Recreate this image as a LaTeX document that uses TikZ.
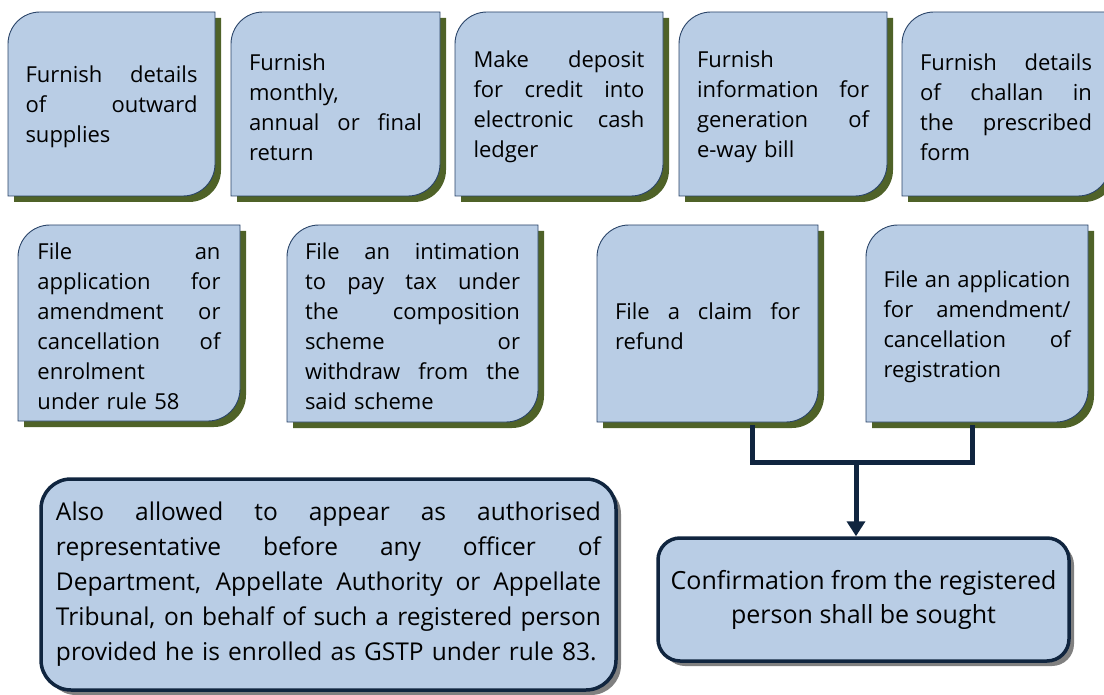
\documentclass[tikz,border=0pt]{standalone}
\usepackage{fontspec}
\setmainfont{Open Sans}
\usetikzlibrary{arrows.meta,shadows}
\definecolor{boxblue}{HTML}{B9CDE5}
\definecolor{boxline}{HTML}{2A4468}
\definecolor{shgreen}{HTML}{4F6228}
\definecolor{navy}{HTML}{10253F}
\newcommand\J[1]{{\spaceskip=0pt\xspaceskip=0pt\makebox[\linewidth][s]{#1}}}
% x1 y1 x2 y2 r  (pixel coordinates, y downwards)
\newcommand\SnipShape[5]{%
  \fill[shgreen,shift={(6,6)}] (#1,#4) -- (#1,{#2+#5}) .. controls (#1,{#2+0.448*#5}) and ({#1+0.448*#5},#2) .. ({#1+#5},#2) -- (#3,#2) -- (#3,{#4-#5}) .. controls (#3,{#4-0.448*#5}) and ({#3-0.448*#5},#4) .. ({#3-#5},#4) -- cycle;
  \filldraw[fill=boxblue,draw=boxline,line width=0.9pt] (#1,#4) -- (#1,{#2+#5}) .. controls (#1,{#2+0.448*#5}) and ({#1+0.448*#5},#2) .. ({#1+#5},#2) -- (#3,#2) -- (#3,{#4-#5}) .. controls (#3,{#4-0.448*#5}) and ({#3-0.448*#5},#4) .. ({#3-#5},#4) -- cycle;
}
% name x1 y1 x2 y2 textwidth content
\newcommand\SnipBox[7]{%
  \SnipShape{#2}{#3}{#4}{#5}{32}
  \node[txt,text width=#6pt,minimum width={(#4-#2)*1pt},minimum height={(#5-#3)*1pt}] (#1) at ({(#2+#4)/2},{(#3+#5)/2+3}) {#7};
}
\tikzset{
  txt/.style={font=\fontsize{22}{30}\selectfont, align=left, inner sep=0pt, text=black},
  bigbox/.style={draw=navy, line width=3.5pt, fill=boxblue, inner sep=0pt,
    drop shadow={shadow xshift=5pt, shadow yshift=-5pt, opacity=1, fill=black!50}},
  conn/.style={draw=navy, line width=5pt},
}
\begin{document}
\begin{tikzpicture}[x=1pt,y=-1pt]
\useasboundingbox (0,0) rectangle (1104,695);
% top row
\SnipBox{b1}{8}{12}{215}{196}{172}{\J{Furnish details}\\ \J{of outward}\\ supplies}
\SnipBox{b2}{231}{12}{440}{196}{173}{Furnish\\ monthly,\\ \J{annual or final}\\ return}
\SnipBox{b3}{455}{12}{663}{196}{171}{\J{Make deposit}\\ \J{for credit into}\\ \J{electronic cash}\\ ledger}
\SnipBox{b4}{679}{12}{887}{196}{172}{Furnish\\ \J{information for}\\ \J{generation of}\\ e-way bill}
\SnipBox{b5}{902}{12}{1110}{196}{172}{\J{Furnish details}\\ \J{of challan in}\\ \J{the prescribed}\\ form}
% second row
\SnipBox{bA}{18}{225}{240}{421}{183}{\J{File an}\\ \J{application for}\\ \J{amendment or}\\ \J{cancellation of}\\ enrolment\\ under rule 58}
\SnipBox{bB}{287}{225}{538}{422}{215}{\J{File an intimation}\\ \J{to pay tax under}\\ \J{the composition}\\ \J{scheme or}\\ \J{withdraw from the}\\ said scheme}
\SnipBox{bC}{597}{225}{818}{422}{185}{\J{File a claim for}\\ refund}
\SnipBox{bD}{866}{225}{1088}{422}{187}{\J{File an application}\\ \J{for amendment/}\\ \J{cancellation of}\\ registration}
% bottom boxes
\node[bigbox, rounded corners=30pt, minimum width=575pt, minimum height=211pt,
      text width=545pt, align=left, font=\fontsize{24.5}{35}\selectfont] (also) at (328.5,584.5)
  {\J{Also allowed to appear as authorised}\\ \J{representative before any officer of}\\ \J{Department, Appellate Authority or Appellate}\\ \J{Tribunal, on behalf of such a registered person}\\ provided he is enrolled as GSTP under rule 83.};
\node[bigbox, rounded corners=22pt, minimum width=411pt, minimum height=123pt,
      align=center, font=\fontsize{25}{34}\selectfont] (conf) at (863.5,599.5)
  {Confirmation from the registered\\ person shall be sought};
% connectors
\coordinate (jL) at (752,462);
\coordinate (jR) at (972,462);
\coordinate (jM) at (856,462);
\draw[conn] (jL |- bC.south) -- (jL) -- (jR) -- (jR |- bD.south);
\draw[conn,-{Triangle[width=18pt,length=15pt]}] (jM) -- (jM |- conf.north);
\end{tikzpicture}
\end{document}
